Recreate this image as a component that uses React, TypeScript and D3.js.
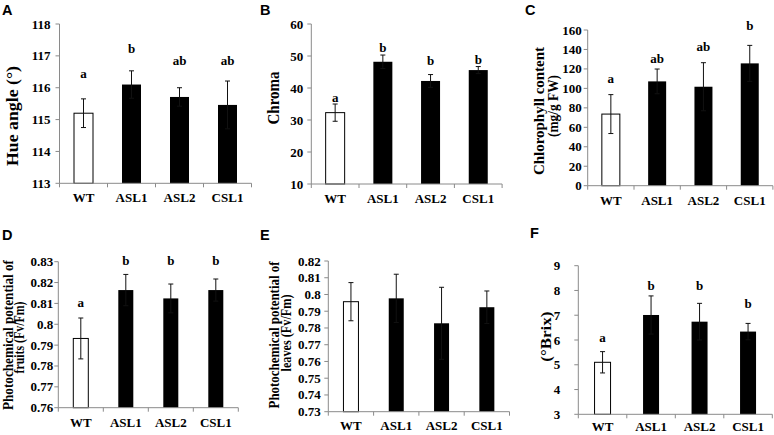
import React from "react";
import * as d3 from "d3";

const categories = ["WT", "ASL1", "ASL2", "CSL1"];

const hueMeans = [115.2, 116.1, 115.71, 115.46];
const hueErrs = [0.45, 0.43, 0.29, 0.75];
const hueLetters = ["a", "b", "ab", "ab"];
const hueLetterAt = [116.3, 117.1, 116.71, 116.71];
const hueTicks = [113, 114, 115, 116, 117, 118];

const chromaMeans = [32.3, 48.2, 42.2, 45.6];
const chromaErrs = [2.7, 2.1, 2.0, 1.1];
const chromaLetters = ["a", "b", "b", "b"];
const chromaLetterAt = [35.6, 51.4, 47.3, 47.6];
const chromaTicks = [10, 20, 30, 40, 50, 60];

const chlMeans = [73.6, 107.2, 101.7, 125.7];
const chlErrs = [20.0, 12.7, 24.7, 18.5];
const chlLetters = ["a", "ab", "ab", "b"];
const chlLetterAt = [106, 125.7, 138.7, 160];
const chlTicks = [0, 20, 40, 60, 80, 100, 120, 140, 160];

const fruitMeans = [0.7932, 0.8164, 0.8124, 0.8164];
const fruitErrs = [0.0098, 0.0075, 0.0069, 0.0053];
const fruitLetters = ["a", "b", "b", "b"];
const fruitLetterAt = [0.8084, 0.8284, 0.8284, 0.8284];
const fruitTicks = [0.76, 0.77, 0.78, 0.79, 0.8, 0.81, 0.82, 0.83];

const leafMeans = [0.7957, 0.7977, 0.7828, 0.7924];
const leafErrs = [0.0114, 0.0144, 0.0215, 0.0097];
const leafLetters: string[] = [];
const leafLetterAt: number[] = [];
const leafTicks = [0.73, 0.74, 0.75, 0.76, 0.77, 0.78, 0.79, 0.8, 0.81, 0.82];

const brixMeans = [5.1, 7.01, 6.74, 6.34];
const brixErrs = [0.43, 0.77, 0.74, 0.33];
const brixLetters = ["a", "b", "b", "b"];
const brixLetterAt = [5.93, 8.02, 8.02, 7.28];
const brixTicks = [3, 4, 5, 6, 7, 8, 9];

type TitleLine = { text: string; x: number; y: number; len: number };
type PanelCfg = {
  letter: string;
  letterX: number;
  letterY: number;
  x0: number;
  step: number;
  yTop: number;
  yBot: number;
  barW: number;
  tickGap: number;
  labelDy: number;
  titleSize: number;
  means: number[];
  errs: number[];
  letters: string[];
  letterAt: number[];
  ticks: number[];
  titles: TitleLine[];
};

const panels: PanelCfg[] = [
  {
    letter: "A", letterX: 2, letterY: 15,
    x0: 59.5, step: 48, yTop: 24, yBot: 183.3, barW: 19, tickGap: 9, labelDy: 19, titleSize: 16.5,
    means: hueMeans, errs: hueErrs, letters: hueLetters, letterAt: hueLetterAt, ticks: hueTicks,
    titles: [{ text: "Hue angle (°)", x: 12.5, y: 116, len: 100 }],
  },
  {
    letter: "B", letterX: 260, letterY: 15,
    x0: 311.3, step: 47.7, yTop: 24, yBot: 184, barW: 19, tickGap: 8, labelDy: 19, titleSize: 16.5,
    means: chromaMeans, errs: chromaErrs, letters: chromaLetters, letterAt: chromaLetterAt, ticks: chromaTicks,
    titles: [{ text: "Chroma", x: 273.5, y: 98, len: 53 }],
  },
  {
    letter: "C", letterX: 525, letterY: 15,
    x0: 587.7, step: 46.3, yTop: 30, yBot: 185.7, barW: 18, tickGap: 6, labelDy: 19, titleSize: 15,
    means: chlMeans, errs: chlErrs, letters: chlLetters, letterAt: chlLetterAt, ticks: chlTicks,
    titles: [
      { text: "Chlorophyll content", x: 539, y: 111, len: 128 },
      { text: "(mg/g FW)", x: 552.5, y: 106, len: 62 },
    ],
  },
  {
    letter: "D", letterX: 2, letterY: 240,
    x0: 58.3, step: 45, yTop: 261.7, yBot: 407.7, barW: 15, tickGap: 5, labelDy: 19, titleSize: 15.5,
    means: fruitMeans, errs: fruitErrs, letters: fruitLetters, letterAt: fruitLetterAt, ticks: fruitTicks,
    titles: [
      { text: "Photochemical potential of", x: 7, y: 335, len: 150 },
      { text: "fruits (Fv/Fm)", x: 18.5, y: 337.5, len: 72 },
    ],
  },
  {
    letter: "E", letterX: 260, letterY: 240,
    x0: 328.3, step: 45.3, yTop: 261, yBot: 411.7, barW: 15, tickGap: 7.5, labelDy: 18, titleSize: 15.5,
    means: leafMeans, errs: leafErrs, letters: leafLetters, letterAt: leafLetterAt, ticks: leafTicks,
    titles: [
      { text: "Photochemical potential of", x: 273, y: 335, len: 147 },
      { text: "leaves (Fv/Fm)", x: 285.5, y: 333, len: 77 },
    ],
  },
  {
    letter: "F", letterX: 530, letterY: 238,
    x0: 578.3, step: 48.5, yTop: 265.7, yBot: 414.3, barW: 16, tickGap: 18, labelDy: 16.5, titleSize: 15,
    means: brixMeans, errs: brixErrs, letters: brixLetters, letterAt: brixLetterAt, ticks: brixTicks,
    titles: [{ text: "(°Brix)", x: 546, y: 336.7, len: 50 }],
  },
];

const serif = "'Liberation Serif', 'Times New Roman', serif";
const AXIS = "#8a8a8a";

const fmt = (v: number) => String(+v.toFixed(2));

function Panel({ p }: { p: PanelCfg }) {
  const x = d3
    .scaleBand<string>()
    .domain(categories)
    .range([p.x0, p.x0 + p.step * categories.length])
    .padding(0);
  const y = d3
    .scaleLinear()
    .domain([p.ticks[0], p.ticks[p.ticks.length - 1]])
    .range([p.yBot, p.yTop]);
  const xEnd = p.x0 + p.step * categories.length;
  const boundaries = categories.map((c) => x(c)!).concat([xEnd]);
  return (
    <g>
      <text x={p.letterX} y={p.letterY} fontFamily="'Liberation Sans', Arial, sans-serif" fontWeight="bold" fontSize={14.5}>
        {p.letter}
      </text>
      {p.titles.map((t, i) => (
        <text
          key={i}
          transform={`translate(${t.x},${t.y}) rotate(-90)`}
          textAnchor="middle"
          dominantBaseline="central"
          fontFamily={serif}
          fontWeight="bold"
          fontSize={p.titleSize}
          textLength={t.len}
          lengthAdjust="spacingAndGlyphs"
        >
          {t.text}
        </text>
      ))}
      {/* y axis */}
      <line x1={p.x0} x2={p.x0} y1={y(p.ticks[0])} y2={y(p.ticks[p.ticks.length - 1])} stroke={AXIS} strokeWidth={1} />
      {p.ticks.map((t) => (
        <g key={t}>
          <line x1={p.x0 - 4} x2={p.x0} y1={y(t)} y2={y(t)} stroke={AXIS} strokeWidth={1} />
          <text
            x={p.x0 - p.tickGap}
            y={y(t)}
            textAnchor="end"
            dominantBaseline="central"
            fontFamily={serif}
            fontWeight="bold"
            fontSize={13}
          >
            {fmt(t)}
          </text>
        </g>
      ))}
      {/* bars */}
      {categories.map((c, i) => {
        const cx = x(c)! + x.bandwidth() / 2;
        const top = y(p.means[i]);
        return (
          <rect
            key={c}
            x={cx - p.barW / 2}
            y={top}
            width={p.barW}
            height={p.yBot - top}
            fill={i === 0 ? "#fff" : "#000"}
            stroke="#000"
            strokeWidth={i === 0 ? 1 : 0}
          />
        );
      })}
      {/* error bars */}
      {categories.map((c, i) => {
        const cx = x(c)! + x.bandwidth() / 2;
        const hi = y(p.means[i] + p.errs[i]);
        const lo = y(p.means[i] - p.errs[i]);
        return (
          <g key={c} stroke="#111" strokeWidth={1}>
            <line x1={cx} x2={cx} y1={hi} y2={lo} />
            <line x1={cx - 2.5} x2={cx + 2.5} y1={hi} y2={hi} />
            <line x1={cx - 2.5} x2={cx + 2.5} y1={lo} y2={lo} />
          </g>
        );
      })}
      {/* x axis */}
      <line x1={p.x0} x2={xEnd} y1={p.yBot} y2={p.yBot} stroke={AXIS} strokeWidth={1} />
      {boundaries.map((b, i) => (
        <line key={i} x1={b} x2={b} y1={p.yBot} y2={p.yBot + 4} stroke={AXIS} strokeWidth={1} />
      ))}
      {categories.map((c) => (
        <text
          key={c}
          x={x(c)! + x.bandwidth() / 2}
          y={p.yBot + p.labelDy}
          textAnchor="middle"
          fontFamily={serif}
          fontWeight="bold"
          fontSize={13}
        >
          {c}
        </text>
      ))}
      {/* significance letters */}
      {p.letters.map((l, i) => (
        <text
          key={i}
          x={x(categories[i])! + x.bandwidth() / 2}
          y={y(p.letterAt[i])}
          textAnchor="middle"
          fontFamily={serif}
          fontWeight="bold"
          fontSize={13}
        >
          {l}
        </text>
      ))}
    </g>
  );
}

export default function App() {
  return (
    <svg
      width={774}
      height={435}
      style={{ position: "absolute", left: 0, top: 0, background: "#fff" }}
    >
      <rect width={774} height={435} fill="#fff" />
      {panels.map((p) => (
        <Panel key={p.letter} p={p} />
      ))}
    </svg>
  );
}
